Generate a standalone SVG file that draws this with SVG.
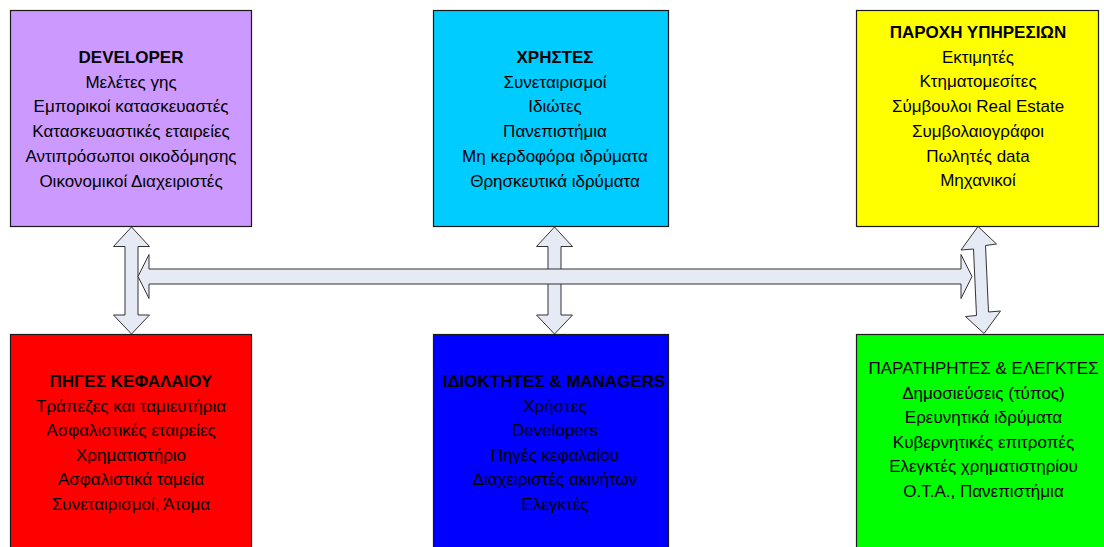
<svg xmlns="http://www.w3.org/2000/svg" width="1104" height="547" viewBox="0 0 1104 547">
  <style>
    .box { stroke: #1a1a1a; stroke-width: 1.2; }
    .t { font-family: "Liberation Sans", Arial, sans-serif; font-size: 17px; fill: #000; text-anchor: middle; }
    .b { font-weight: bold; }
    .arrow { fill: #E6EAF5; stroke: #333; stroke-width: 1; stroke-linejoin: miter; }
  </style>
  <rect width="1104" height="547" fill="#fff"/>

  <g id="developer">
    <rect class="box" x="10.5" y="10.5" width="241" height="216" fill="#CC99FF"/>
    <text class="t b" x="131" y="63">DEVELOPER</text>
    <text class="t" x="131" y="87.7">Μελέτες γης</text>
    <text class="t" x="131" y="112.4">Εμπορικοί κατασκευαστές</text>
    <text class="t" x="131" y="137.1">Κατασκευαστικές εταιρείες</text>
    <text class="t" x="131" y="161.8">Αντιπρόσωποι οικοδόμησης</text>
    <text class="t" x="131" y="186.5">Οικονομικοί Διαχειριστές</text>
  </g>

  <g id="xristes">
    <rect class="box" x="433.5" y="10.5" width="235" height="216" fill="#00CCFF"/>
    <text class="t b" x="555" y="63">ΧΡΗΣΤΕΣ</text>
    <text class="t" x="555" y="87.7">Συνεταιρισμοί</text>
    <text class="t" x="555" y="112.4">Ιδιώτες</text>
    <text class="t" x="555" y="137.1">Πανεπιστήμια</text>
    <text class="t" x="555" y="161.8">Μη κερδοφόρα ιδρύματα</text>
    <text class="t" x="555" y="186.5">Θρησκευτικά ιδρύματα</text>
  </g>

  <g id="paroxi">
    <rect class="box" x="856.5" y="10.5" width="242" height="216" fill="#FFFF00"/>
    <text class="t b" x="978" y="38">ΠΑΡΟΧΗ ΥΠΗΡΕΣΙΩΝ</text>
    <text class="t" x="978" y="62.7">Εκτιμητές</text>
    <text class="t" x="978" y="87.4">Κτηματομεσίτες</text>
    <text class="t" x="978" y="112.1">Σύμβουλοι Real Estate</text>
    <text class="t" x="978" y="136.8">Συμβολαιογράφοι</text>
    <text class="t" x="978" y="161.5">Πωλητές data</text>
    <text class="t" x="978" y="186.2">Μηχανικοί</text>
  </g>

  <g id="piges">
    <rect class="box" x="10.5" y="334.5" width="241" height="230" fill="#FF0000"/>
    <text class="t b" x="131" y="387">ΠΗΓΕΣ ΚΕΦΑΛΑΙΟΥ</text>
    <text class="t" x="131" y="411.6">Τράπεζες και ταμιευτήρια</text>
    <text class="t" x="131" y="436.2">Ασφαλιστικές εταιρείες</text>
    <text class="t" x="131" y="460.8">Χρηματιστήριο</text>
    <text class="t" x="131" y="485.4">Ασφαλιστικά ταμεία</text>
    <text class="t" x="131" y="510">Συνεταιρισμοί, Άτομα</text>
  </g>

  <g id="idioktites">
    <rect class="box" x="433.5" y="334.5" width="235" height="230" fill="#0000FF"/>
    <text class="t b" x="554" y="387">ΙΔΙΟΚΤΗΤΕΣ &amp; MANAGERS</text>
    <text class="t" x="555" y="411.6">Χρήστες</text>
    <text class="t" x="555" y="436.2">Developers</text>
    <text class="t" x="555" y="460.8">Πηγές κεφαλαίου</text>
    <text class="t" x="555" y="485.4">Διαχειριστές ακινήτων</text>
    <text class="t" x="555" y="510">Ελεγκτές</text>
  </g>

  <g id="paratirites">
    <rect class="box" x="856.5" y="334.5" width="260" height="230" fill="#00FF00"/>
    <text class="t" x="983.5" y="374">ΠΑΡΑΤΗΡΗΤΕΣ &amp; ΕΛΕΓΚΤΕΣ</text>
    <text class="t" x="983.5" y="398.6">Δημοσιεύσεις (τύπος)</text>
    <text class="t" x="983.5" y="423.2">Ερευνητικά ιδρύματα</text>
    <text class="t" x="983.5" y="447.8">Κυβερνητικές επιτροπές</text>
    <text class="t" x="983.5" y="472.4">Ελεγκτές χρηματιστηρίου</text>
    <text class="t" x="983.5" y="497">Ο.Τ.Α., Πανεπιστήμια</text>
  </g>

  <g id="connectors">
    <path class="arrow" d="M131.5,227 L149.5,246.5 L138,246.5 L138,315 L149.5,315 L131.5,334 L113.5,315 L125,315 L125,246.5 L113.5,246.5 Z"/>
    <path class="arrow" d="M554.5,227 L572.5,246.5 L561,246.5 L561,315 L572.5,315 L554.5,334 L536.5,315 L548,315 L548,246.5 L536.5,246.5 Z"/>
    <path class="arrow" d="M978,226.5 L996.5,244 L985.5,245.5 L988.5,312 L1000.5,311 L984,333.5 L965.5,316.5 L976.5,315.5 L973.5,249 L961,250 Z"/>
    <path class="arrow" d="M138,276.5 L149,254.5 L149,269 L961,269 L961,254.5 L972,276.5 L961,298.5 L961,284 L149,284 L149,298.5 Z"/>
  </g>
</svg>
